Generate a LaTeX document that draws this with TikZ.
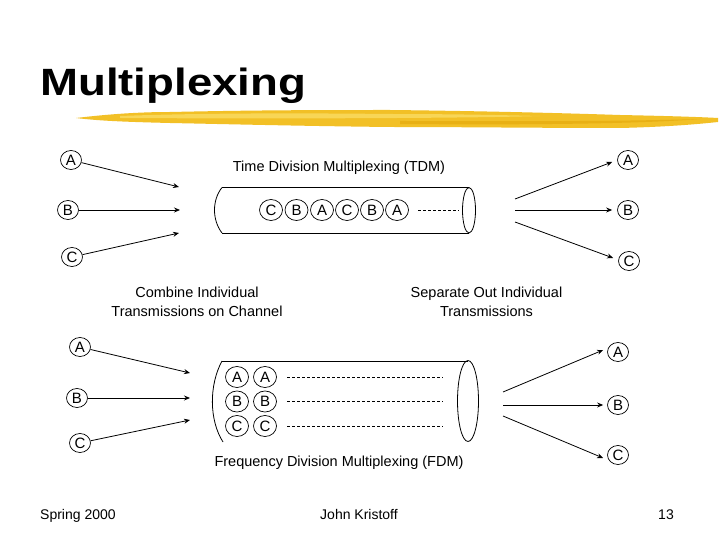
\documentclass[tikz,border=0pt]{standalone}
\usepackage{fontspec}
\setmainfont{Liberation Sans}
\usetikzlibrary{arrows.meta,shapes.geometric}
\definecolor{brushA}{RGB}{242,192,38}
\definecolor{brushB}{RGB}{248,214,86}
\definecolor{brushC}{RGB}{232,176,20}
\tikzset{
  sig/.style={ellipse,draw,line width=0.7pt,minimum width=21pt,minimum height=19pt,inner sep=0pt,font=\fontsize{15}{15}\selectfont},
  slot/.style={ellipse,draw,line width=0.7pt,minimum width=23pt,minimum height=21pt,inner sep=0pt,font=\fontsize{15}{15}\selectfont},
  link/.style={line width=0.8pt,-{Stealth[length=6pt,width=5pt]}},
  pipe/.style={line width=0.8pt},
  dots/.style={line width=0.7pt,dash pattern=on 3pt off 2pt},
  lbl/.style={font=\fontsize{14.5}{19}\selectfont,align=center,inner sep=0pt},
  foot/.style={font=\fontsize{14}{14}\selectfont,inner sep=0pt,anchor=base}
}
\begin{document}
\begin{tikzpicture}[x=1pt,y=-1pt]
\useasboundingbox (0,0) rectangle (720,540);
\fill[white] (0,0) rectangle (720,540);
% title
\node[anchor=base west,inner sep=0pt,font=\fontsize{38}{38}\selectfont\bfseries,xscale=1.2] (title) at (40,96) {Multiplexing};
% brush stroke
\fill[brushA] (76,118) .. controls (110,114) and (140,112) .. (170,112)
  .. controls (260,110) and (330,110) .. (390,110)
  .. controls (480,111) and (560,113) .. (620,115)
  .. controls (670,116) and (700,117) .. (718,118)
  -- (718,122)
  .. controls (690,125) and (660,127) .. (620,128)
  .. controls (540,128) and (460,127) .. (390,127)
  .. controls (300,126) and (220,124) .. (170,123)
  .. controls (130,122) and (100,121) .. cycle;
\fill[brushB] (120,116) .. controls (200,113) and (300,113) .. (390,114)
  .. controls (450,114) and (500,115) .. (540,116)
  .. controls (480,118) and (300,119) .. (120,118) -- cycle;
\fill[brushC] (400,121) .. controls (500,121) and (600,122) .. (700,119)
  .. controls (640,124) and (520,125) .. (400,124) -- cycle;

% ---------- TDM ----------
\node[sig] (lA1) at (71,160) {A};
\node[sig] (lB1) at (68,210) {B};
\node[sig] (lC1) at (72,257) {C};
\coordinate (tA1) at (179,187);
\coordinate (tB1) at (180,210);
\coordinate (tC1) at (179,233);
\draw[link] (lA1) -- (tA1);
\draw[link] (lB1) -- (tB1);
\draw[link] (lC1) -- (tC1);

\node[lbl] (tdm) at (339,168) {Time Division Multiplexing (TDM)};
\draw[pipe] (222,187.5) -- (469,187.5);
\draw[pipe] (222,233) -- (469,233);
\draw[pipe] (222,187.5) .. controls (212,200) and (212,220) .. (222,233);
\draw[pipe] (469,210.25) ellipse [x radius=6.5, y radius=22.75];
\node[slot] (s1) at (271,210) {C};
\node[slot] (s2) at (296.5,210) {B};
\node[slot] (s3) at (322,210) {A};
\node[slot] (s4) at (347,210) {C};
\node[slot] (s5) at (372,210) {B};
\node[slot] (s6) at (397,210) {A};
\coordinate (d1) at (418,210);
\coordinate (d1e) at (459,210);
\draw[dots] (d1) -- (d1e);

\coordinate (oA1) at (515,199);
\coordinate (oB1) at (515,210);
\coordinate (oC1) at (515,222);
\node[sig] (rA1) at (628,160) {A};
\node[sig] (rB1) at (628,210) {B};
\node[sig] (rC1) at (629,261) {C};
\draw[link] (oA1) -- ([xshift=-5pt,yshift=-2pt]rA1.west);
\draw[link] (oB1) -- ([xshift=-5pt]rB1.west);
\draw[link] (oC1) -- ([xshift=-5pt,yshift=3pt]rC1.west);

\node[lbl] (comb) at (197,302) {Combine Individual\\Transmissions on Channel};
\node[lbl] (sep) at (486.5,302) {Separate Out Individual\\Transmissions};

% ---------- FDM ----------
\node[sig] (lA2) at (80,347) {A};
\node[sig] (lB2) at (77,398) {B};
\node[sig] (lC2) at (80,443) {C};
\coordinate (tA2) at (190,373);
\coordinate (tB2) at (190,398);
\coordinate (tC2) at (190,420);
\draw[link] (lA2) -- (tA2);
\draw[link] (lB2) -- (tB2);
\draw[link] (lC2) -- (tC2);

\draw[pipe] (222,361) -- (468,361);
\draw[pipe] (222,361) .. controls (209,385) and (209,420) .. (223,442);
\draw[pipe] (468,401) ellipse [x radius=10.5, y radius=40.5];
\node[slot] (fa1) at (237,377) {A};
\node[slot] (fa2) at (265,377) {A};
\node[slot] (fb1) at (237,401.5) {B};
\node[slot] (fb2) at (265,401.5) {B};
\node[slot] (fc1) at (237,426) {C};
\node[slot] (fc2) at (265,426) {C};
\coordinate (ea) at (287,377);
\coordinate (eae) at (443,377);
\coordinate (eb) at (287,401.5);
\coordinate (ebe) at (443,401.5);
\coordinate (ec) at (287,426);
\coordinate (ece) at (443,426);
\draw[dots] (ea) -- (eae);
\draw[dots] (eb) -- (ebe);
\draw[dots] (ec) -- (ece);
\node[lbl] (fdm) at (339,463) {Frequency Division Multiplexing (FDM)};

\coordinate (oA2) at (503,392);
\coordinate (oB2) at (503,405);
\coordinate (oC2) at (503,416);
\node[sig] (rA2) at (618,352) {A};
\node[sig] (rB2) at (618,405) {B};
\node[sig] (rC2) at (618,455) {C};
\draw[link] (oA2) -- ([xshift=-4pt,yshift=2pt]rA2.west);
\draw[link] (oB2) -- ([xshift=-4pt]rB2.west);
\draw[link] (oC2) -- ([xshift=-4pt,yshift=-3pt]rC2.west);

% footer
\node[foot,anchor=base west] (f1) at (40,519) {Spring 2000};
\node[foot] (f2) at (359,519) {John Kristoff};
\node[foot] (f3) at (666,519) {13};
\end{tikzpicture}
\end{document}
